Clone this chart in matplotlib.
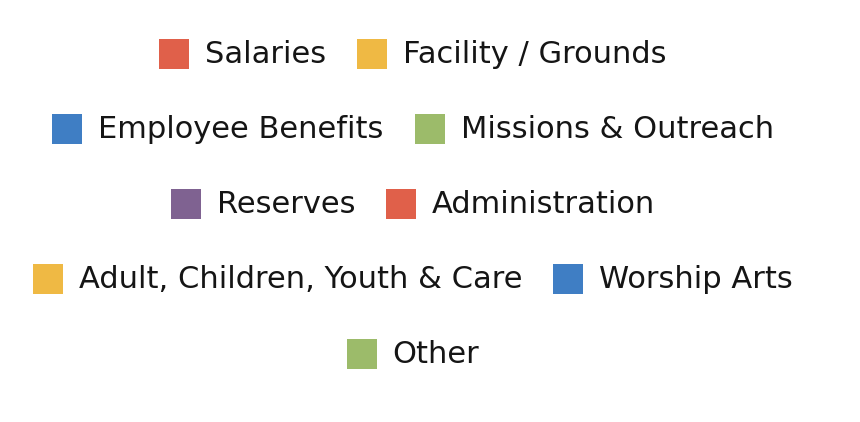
import matplotlib
matplotlib.use("Agg")
import matplotlib.pyplot as plt
from matplotlib.patches import Rectangle

categories = ["Salaries", "Facility / Grounds", "Employee Benefits", "Missions & Outreach",
              "Reserves", "Administration", "Adult, Children, Youth & Care", "Worship Arts", "Other"]
colors = ["#E0604A", "#EFB944", "#3F7EC4", "#9CBB6A", "#7F6291",
          "#E0604A", "#EFB944", "#3F7EC4", "#9CBB6A"]
items_per_row = [2, 2, 2, 2, 1]

W, H, DPI = 860, 422, 100
fig = plt.figure(figsize=(W / DPI, H / DPI), dpi=DPI)
fig.patch.set_facecolor("white")
renderer = fig.canvas.get_renderer()

FONT = "DejaVu Sans"
FS = 22
SQ = 30
TEXT_OFF = 46
COL_GAP = 31
CENTER_X = 413
row_y = [54, 129, 204, 279, 354]

idx = 0
for r, n in enumerate(items_per_row):
    labels = categories[idx:idx + n]
    cols = colors[idx:idx + n]
    idx += n
    widths = []
    for lab in labels:
        t = fig.text(0, 0, lab, fontsize=FS, family=FONT)
        bb = t.get_window_extent(renderer=renderer)
        widths.append(bb.width)
        t.remove()
    total = sum(TEXT_OFF + w for w in widths) + COL_GAP * (n - 1)
    x = CENTER_X - total / 2
    yc = H - row_y[r]
    for lab, c, w in zip(labels, cols, widths):
        fig.patches.append(Rectangle((x / W, (yc - SQ / 2) / H), SQ / W, SQ / H,
                                     transform=fig.transFigure, facecolor=c, edgecolor="none"))
        fig.text((x + TEXT_OFF) / W, (yc - 9) / H, lab, fontsize=FS, family=FONT,
                 color="#151515", va="baseline", ha="left")
        x += TEXT_OFF + w + COL_GAP

fig.savefig("out.png", dpi=DPI, facecolor="white")
